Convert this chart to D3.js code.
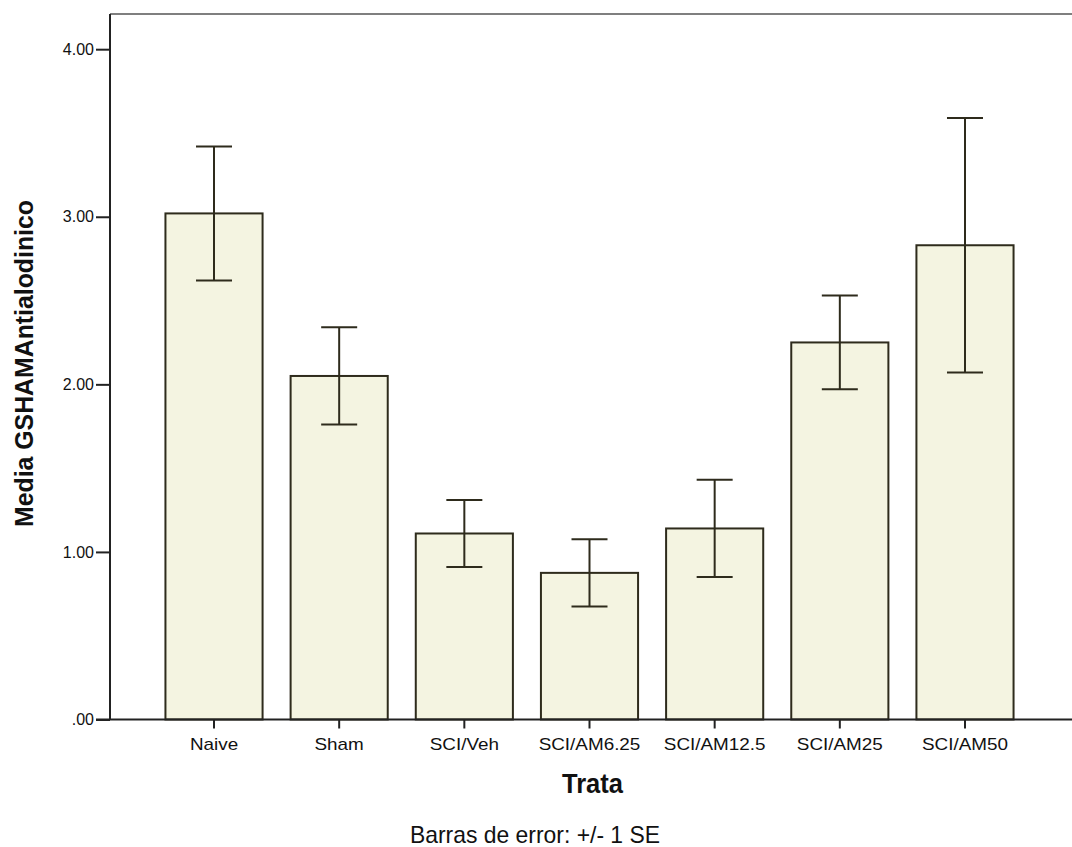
<!DOCTYPE html>
<html>
<head>
<meta charset="utf-8">
<script src="https://cdn.jsdelivr.net/npm/d3@7"></script>
<style>
	body { margin: 0; background: #fff; }
	text { font-family: "Liberation Sans", Arial, sans-serif; fill: #111; }
</style>
</head>
<body>
<div id="chart"></div>
<script>
// bar chart with +/- 1 SE error bars

var width = 1072,
	height = 847;

var categories = ["Naive", "Sham", "SCI/Veh", "SCI/AM6.25", "SCI/AM12.5", "SCI/AM25", "SCI/AM50"];
var means = [3.02, 2.05, 1.11, 0.875, 1.14, 2.25, 2.83];
var se = [0.40, 0.29, 0.20, 0.20, 0.29, 0.28, 0.76];
var yTicks = [0, 1, 2, 3, 4];
var yTickLabels = [".00", "1.00", "2.00", "3.00", "4.00"];

var plotLeft = 110, plotRight = 1069, plotTop = 14, plotBottom = 719.5;

var svg = d3.select("#chart").append("svg")
	.attr("width", width)
	.attr("height", height);

var x = d3.scaleBand()
	.domain(categories)
	.range([plotLeft, plotRight])
	.paddingInner(0.224)
	.paddingOuter(0.443);

var y = d3.scaleLinear()
	.domain([0, 4.21])
	.range([plotBottom, plotTop]);

// frame top line
svg.append("line")
	.attr("x1", plotLeft).attr("x2", width)
	.attr("y1", plotTop).attr("y2", plotTop)
	.attr("stroke", "#555")
	.attr("stroke-width", 1.5);

// bars
svg.append("g")
	.selectAll("rect")
	.data(categories)
	.enter()
	.append("rect")
	.attr("x", d => x(d))
	.attr("width", x.bandwidth())
	.attr("y", (d, i) => y(means[i]))
	.attr("height", (d, i) => y(0) - y(means[i]))
	.attr("fill", "#f4f4e1")
	.attr("stroke", "#2e2b1c")
	.attr("stroke-width", 2);

// error bars
var err = svg.append("g")
	.attr("stroke", "#2e2b1c")
	.attr("stroke-width", 2);

categories.forEach(function(c, i){
	var cx = x(c) + x.bandwidth() / 2;
	var hi = y(means[i] + se[i]),
		lo = y(means[i] - se[i]);
	err.append("line")
		.attr("x1", cx).attr("x2", cx)
		.attr("y1", hi).attr("y2", lo);
	err.append("line")
		.attr("x1", cx - 18).attr("x2", cx + 18)
		.attr("y1", hi).attr("y2", hi);
	err.append("line")
		.attr("x1", cx - 18).attr("x2", cx + 18)
		.attr("y1", lo).attr("y2", lo);
});

// y axis
var yAxis = d3.axisLeft(y)
	.tickValues(yTicks)
	.tickFormat((d, i) => yTickLabels[i])
	.tickSize(14)
	.tickPadding(2);

var yG = svg.append("g")
	.attr("transform", "translate(" + plotLeft + ",0)")
	.call(yAxis);
yG.select(".domain").remove();
yG.selectAll(".tick line").attr("stroke", "#222").attr("stroke-width", 2);
yG.selectAll(".tick text")
	.attr("font-size", 16)
	.attr("font-family", "Liberation Sans, Arial, sans-serif")
	.attr("fill", "#111");

svg.append("line")
	.attr("x1", plotLeft).attr("x2", plotLeft)
	.attr("y1", plotTop).attr("y2", plotBottom)
	.attr("stroke", "#222")
	.attr("stroke-width", 2);

// x axis
var xAxis = d3.axisBottom(x)
	.tickSize(9)
	.tickPadding(10);

var xG = svg.append("g")
	.attr("transform", "translate(0," + plotBottom + ")")
	.call(xAxis);
xG.select(".domain").remove();
xG.selectAll(".tick line").attr("stroke", "#222").attr("stroke-width", 2);
xG.selectAll(".tick text")
	.attr("font-size", 16)
	.attr("transform", "scale(1.18,1)")
	.attr("font-family", "Liberation Sans, Arial, sans-serif")
	.attr("fill", "#111");

svg.append("line")
	.attr("x1", plotLeft - 14).attr("x2", width)
	.attr("y1", plotBottom).attr("y2", plotBottom)
	.attr("stroke", "#222")
	.attr("stroke-width", 2);

// axis titles
svg.append("text")
	.attr("transform", "translate(33,363.5) rotate(-90)")
	.attr("x", -163.5)
	.attr("font-size", 25)
	.attr("font-weight", "bold")
	.attr("textLength", 327)
	.attr("lengthAdjust", "spacingAndGlyphs")
	.text("Media GSHAMAntialodinico");

svg.append("text")
	.attr("x", 562)
	.attr("y", 793)
	.attr("font-size", 27)
	.attr("font-weight", "bold")
	.attr("textLength", 61)
	.attr("lengthAdjust", "spacingAndGlyphs")
	.text("Trata");

svg.append("text")
	.attr("x", 410)
	.attr("y", 843)
	.attr("font-size", 24)
	.attr("textLength", 250)
	.attr("lengthAdjust", "spacingAndGlyphs")
	.text("Barras de error: +/- 1 SE");
</script>
</body>
</html>
